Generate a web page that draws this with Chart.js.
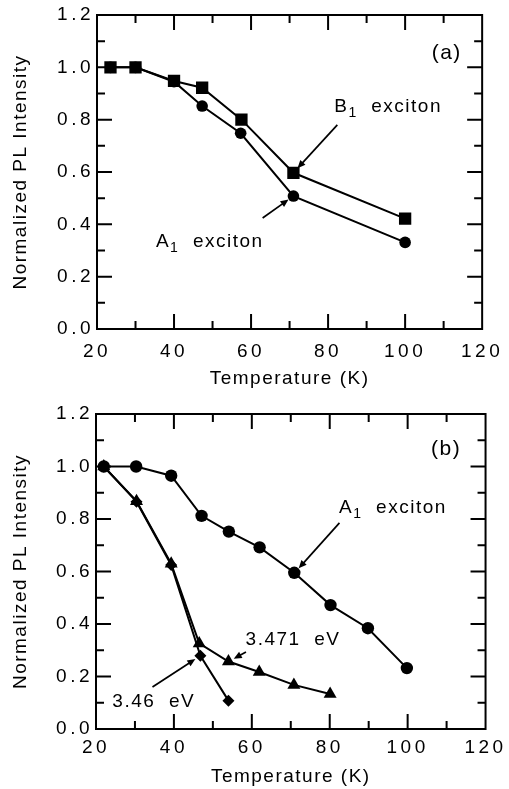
<!DOCTYPE html>
<html><head><meta charset="utf-8">
<script src="https://cdn.jsdelivr.net/npm/chart.js@4/dist/chart.umd.min.js"></script>
<style>
html,body{margin:0;padding:0;background:#fff;}
.pane{position:absolute;left:0;width:509px;}
#pa{top:0;height:395px;}
#pb{top:395px;height:394px;}
</style></head><body>
<div class="pane" id="pa"><canvas id="ca" width="509" height="395"></canvas></div>
<div class="pane" id="pb"><canvas id="cb" width="509" height="394"></canvas></div>
<script>
// ---- tick labels ----
const xTickValues = [20, 40, 60, 80, 100, 120];
const yTickValues = [0, 0.2, 0.4, 0.6, 0.8, 1.0, 1.2];
const xTitle = 'Temperature (K)';
const yTitle = 'Normalized PL Intensity';

// ---- panel (a) ----
const tempA_B1 = [23.5, 30, 40, 47.3, 57.5, 71, 100];
const valA_B1  = [1.0, 1.0, 0.948, 0.922, 0.80, 0.597, 0.422];
const tempA_A1 = [23.5, 30, 40, 47.3, 57.3, 71, 100];
const valA_A1  = [1.0, 1.0, 0.945, 0.852, 0.748, 0.508, 0.331];

// ---- panel (b) ----
const tempB_A1   = [22, 30.3, 39.3, 47.1, 54.1, 62, 70.9, 80.2, 89.8, 99.8];
const valB_A1    = [1.0, 1.0, 0.965, 0.812, 0.752, 0.692, 0.595, 0.472, 0.384, 0.232];
const tempB_3471 = [22, 30.4, 39.3, 46.5, 54, 61.9, 70.8, 80.1];
const valB_3471  = [1.0, 0.868, 0.63, 0.326, 0.257, 0.217, 0.168, 0.133];
const tempB_346  = [22, 30.4, 39.3, 46.8, 54];
const valB_346   = [1.0, 0.866, 0.625, 0.279, 0.108];

const FONT = "'Liberation Sans', Arial, Helvetica, sans-serif";
Chart.defaults.font.family = FONT;
Chart.defaults.font.size = 19;
Chart.defaults.color = '#000';

class SpacedLinear extends Chart.LinearScale {
  drawLabels(area) { const c = this.ctx; c.save(); c.letterSpacing = '3.5px'; super.drawLabels(area); c.restore(); }
  drawTitle() { const c = this.ctx; c.save(); c.letterSpacing = '1.5px'; super.drawTitle(); c.restore(); }
}
SpacedLinear.id = 'spaced';
SpacedLinear.defaults = Chart.LinearScale.defaults;
Chart.register(SpacedLinear);

const pts = (xs, ys) => xs.map((x, i) => ({x: x, y: ys[i]}));

const framePlugin = {
  id: 'frame',
  beforeDatasetsDraw(chart) {
    const {ctx, chartArea: a, scales: {x, y}} = chart;
    ctx.save();
    ctx.strokeStyle = '#000';
    ctx.lineWidth = 2;
    ctx.strokeRect(a.left, a.top, a.right - a.left, a.bottom - a.top);
    ctx.beginPath();
    for (let v = 30; v < 120; v += 10) {
      const p = x.getPixelForValue(v);
      const len = (v % 20 === 0) ? 15 : 8;
      ctx.moveTo(p, a.bottom); ctx.lineTo(p, a.bottom - len);
      ctx.moveTo(p, a.top); ctx.lineTo(p, a.top + len);
    }
    for (let i = 1; i < 12; i++) {
      const p = y.getPixelForValue(i / 10);
      const len = (i % 2 === 0) ? 15 : 8;
      ctx.moveTo(a.left, p); ctx.lineTo(a.left + len, p);
      ctx.moveTo(a.right, p); ctx.lineTo(a.right - len, p);
    }
    ctx.stroke();
    ctx.restore();
  }
};

function annotPlugin(list) {
  return {
    id: 'annot',
    afterDatasetsDraw(chart) {
      const {ctx, scales: {x, y}} = chart;
      ctx.save();
      ctx.fillStyle = '#000';
      ctx.strokeStyle = '#000';
      ctx.letterSpacing = '1.5px';
      ctx.textBaseline = 'alphabetic';
      ctx.textAlign = 'left';
      for (const a of list) {
        let px = x.getPixelForValue(a.x);
        const py = y.getPixelForValue(a.y);
        for (const [t, sub] of a.parts) {
          ctx.font = (sub ? '14px ' : (a.size || 19) + 'px ') + FONT;
          ctx.fillText(t, px, py + (sub ? 5 : 0));
          px += ctx.measureText(t).width;
        }
        if (a.from) {
          const x0 = x.getPixelForValue(a.from[0]), y0 = y.getPixelForValue(a.from[1]);
          const x1 = x.getPixelForValue(a.to[0]), y1 = y.getPixelForValue(a.to[1]);
          const dx = x1 - x0, dy = y1 - y0, L = Math.hypot(dx, dy);
          const ux = dx / L, uy = dy / L;
          const tx = x1 - ux * 6, ty = y1 - uy * 6;
          ctx.lineWidth = 1.7;
          ctx.beginPath(); ctx.moveTo(x0, y0); ctx.lineTo(tx - ux * 4, ty - uy * 4); ctx.stroke();
          ctx.beginPath();
          ctx.moveTo(tx, ty);
          ctx.lineTo(tx - ux * 8 - uy * 3.5, ty - uy * 8 + ux * 3.5);
          ctx.lineTo(tx - ux * 8 + uy * 3.5, ty - uy * 8 - ux * 3.5);
          ctx.closePath(); ctx.fill();
        }
      }
      ctx.restore();
    }
  };
}

function ds(data, style, r) {
  return {data: data, showLine: true, borderColor: '#000', backgroundColor: '#000', borderWidth: 2,
    pointStyle: style, pointRadius: r, pointBorderWidth: 0, pointBackgroundColor: '#000', pointBorderColor: '#000'};
}

function makeChart(id, datasets, cfg) {
  return new Chart(document.getElementById(id), {
    type: 'scatter',
    data: {datasets: datasets},
    options: {
      responsive: false, animation: false, events: [],
      layout: {padding: {top: cfg.top, right: 21, left: 0, bottom: 0}},
      plugins: {legend: {display: false}, tooltip: {enabled: false}},
      scales: {
        x: {type: 'spaced', min: 20, max: 120,
          afterBuildTicks: s => { s.ticks = xTickValues.map(v => ({value: v})); },
          ticks: {padding: cfg.xpad, maxRotation: 0, autoSkip: false, callback: v => String(v)},
          grid: {display: false, drawTicks: false}, border: {display: false},
          title: {display: true, text: xTitle, padding: {top: 0, bottom: cfg.xtp}},
          afterFit: s => { s.height = cfg.xh; }},
        y: {type: 'spaced', min: 0, max: 1.2,
          afterBuildTicks: s => { s.ticks = yTickValues.map(v => ({value: v})); },
          ticks: {padding: 3, autoSkip: false, callback: v => Number(v).toFixed(1)},
          grid: {display: false, drawTicks: false}, border: {display: false},
          title: {display: true, text: yTitle, padding: {top: 9.6, bottom: 0}},
          afterFit: s => { s.width = cfg.yw; }}
      }
    },
    plugins: [framePlugin, annotPlugin(cfg.annots)]
  });
}

makeChart('ca', [
  ds(pts(tempA_B1, valA_B1), 'rect', 8.7),
  ds(pts(tempA_A1, valA_A1), 'circle', 5.8)
], {top: 15, xh: 66, yw: 97, xpad: 11, xtp: 4.9, annots: [
  {x: 106.9, y: 1.032, size: 21, parts: [['(a)', 0]]},
  {x: 81.6, y: 0.829, parts: [['B', 0], ['1', 1], ['  exciton', 0]], from: [82.4, 0.78], to: [71, 0.597]},
  {x: 35.3, y: 0.313, parts: [['A', 0], ['1', 1], ['  exciton', 0]], from: [63.0, 0.424], to: [71, 0.508]}
]});

makeChart('cb', [
  ds(pts(tempB_A1, valB_A1), 'circle', 6.2),
  ds(pts(tempB_3471, valB_3471), 'triangle', 7.5),
  ds(pts(tempB_346, valB_346), 'rectRot', 6)
], {top: 19, xh: 60, yw: 96, xpad: 7.6, xtp: 0.6, annots: [
  {x: 106.0, y: 1.044, size: 21, parts: [['(b)', 0]]},
  {x: 82.4, y: 0.824, parts: [['A', 0], ['1', 1], ['  exciton', 0]], from: [82.5, 0.785], to: [71, 0.595]},
  {x: 58.4, y: 0.32, parts: [['3.471  eV', 0]], from: [58.5, 0.293], to: [54, 0.257]},
  {x: 24.2, y: 0.085, parts: [['3.46  eV', 0]], from: [34.5, 0.16], to: [46.8, 0.279]}
]});
</script>
</body></html>
